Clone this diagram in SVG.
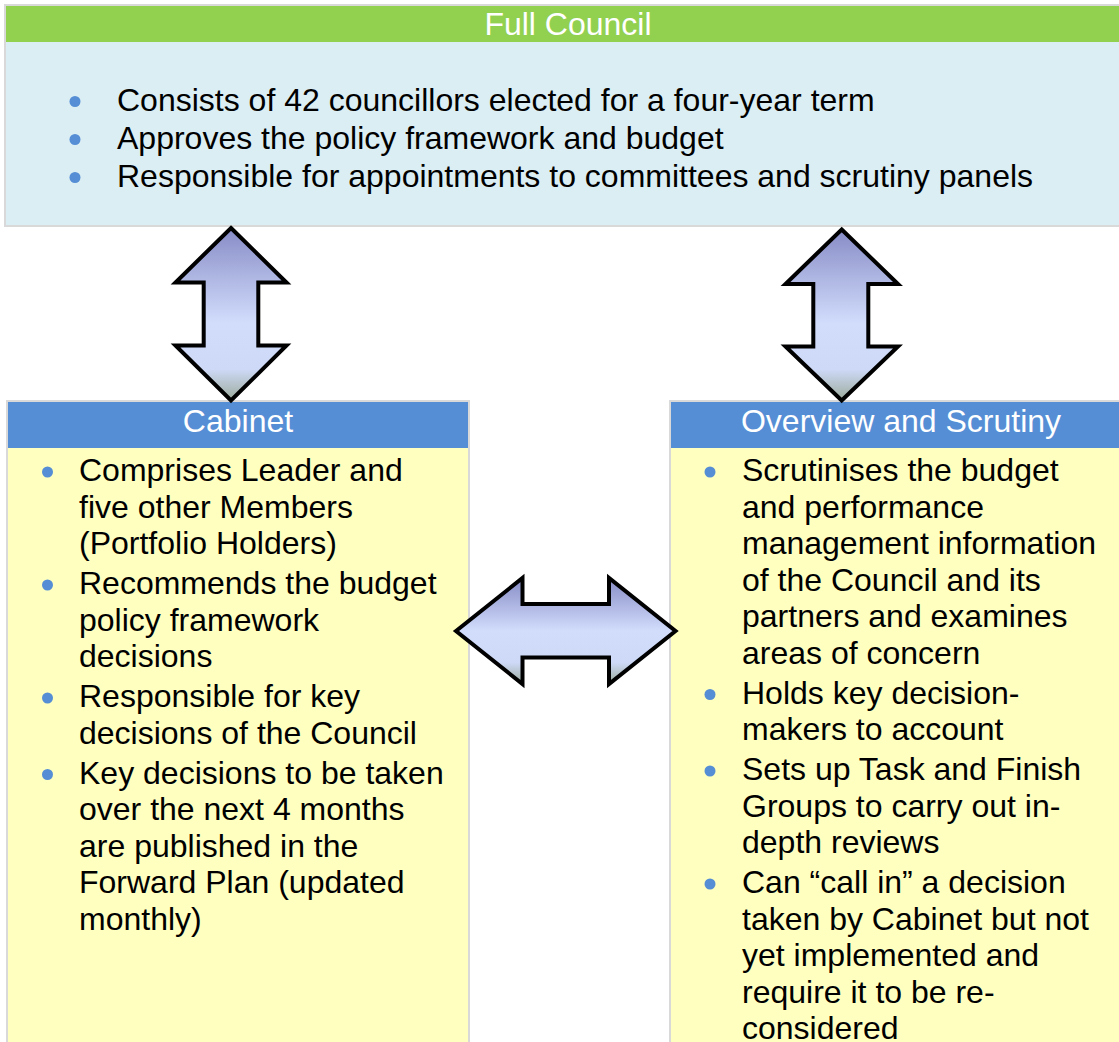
<svg xmlns="http://www.w3.org/2000/svg" width="1119" height="1042" viewBox="0 0 1119 1042">
<defs>
<linearGradient id="gv" x1="0" y1="0" x2="0" y2="1">
<stop offset="0" stop-color="#878cc6"/>
<stop offset="0.55" stop-color="#d2ddfc"/>
<stop offset="0.82" stop-color="#cdd9f6"/>
<stop offset="1" stop-color="#9cab9c"/>
</linearGradient>
<linearGradient id="gh" x1="0" y1="0" x2="0" y2="1">
<stop offset="0" stop-color="#878cc6"/>
<stop offset="0.5" stop-color="#d2ddfc"/>
<stop offset="0.8" stop-color="#cdd9f6"/>
<stop offset="1" stop-color="#9cab9c"/>
</linearGradient>
<style>
.frame{stroke:#d9d9d9;stroke-width:2}
.hdr{font-family:"Liberation Sans",Arial,sans-serif;font-size:32px;fill:#ffffff;text-anchor:middle}
.txt{font-family:"Liberation Sans",Arial,sans-serif;font-size:32px;fill:#000000}
.bul{fill:#558ed5}
.arr{stroke:#000000;stroke-width:4;stroke-linejoin:miter}
</style>
</defs>

<g id="full-council">
<rect class="frame" x="5" y="5" width="1130" height="221" fill="#dbeef4"/>
<rect x="6" y="6" width="1128" height="36" fill="#92d050"/>
<text class="hdr" x="568" y="34.5">Full Council</text>
<circle class="bul" cx="75" cy="101.5" r="5.5"/>
<circle class="bul" cx="75" cy="139.5" r="5.5"/>
<circle class="bul" cx="75" cy="177.5" r="5.5"/>
<text class="txt" x="117" y="110.5">Consists of 42 councillors elected for a four-year term</text>
<text class="txt" x="117" y="148.5">Approves the policy framework and budget</text>
<text class="txt" x="117" y="186.5">Responsible for appointments to committees and scrutiny panels</text>
</g>

<g id="cabinet">
<rect class="frame" x="7" y="401" width="462" height="660" fill="#ffffc0"/>
<rect x="8" y="402" width="460" height="46" fill="#558ed5"/>
<text class="hdr" x="238" y="432">Cabinet</text>
<circle class="bul" cx="47.5" cy="472" r="5.5"/>
<circle class="bul" cx="47.5" cy="585" r="5.5"/>
<circle class="bul" cx="47.5" cy="698" r="5.5"/>
<circle class="bul" cx="47.5" cy="774.5" r="5.5"/>
<text class="txt" x="79" y="481">Comprises Leader and</text>
<text class="txt" x="79" y="517.5">five other Members</text>
<text class="txt" x="79" y="554">(Portfolio Holders)</text>
<text class="txt" x="79" y="594">Recommends the budget</text>
<text class="txt" x="79" y="630.5">policy framework</text>
<text class="txt" x="79" y="667">decisions</text>
<text class="txt" x="79" y="707">Responsible for key</text>
<text class="txt" x="79" y="743.5">decisions of the Council</text>
<text class="txt" x="79" y="783.5">Key decisions to be taken</text>
<text class="txt" x="79" y="820">over the next 4 months</text>
<text class="txt" x="79" y="856.5">are published in the</text>
<text class="txt" x="79" y="893">Forward Plan (updated</text>
<text class="txt" x="79" y="929.5">monthly)</text>
</g>

<g id="overview-scrutiny">
<rect class="frame" x="670" y="401" width="470" height="660" fill="#ffffc0"/>
<rect x="671" y="402" width="468" height="46" fill="#558ed5"/>
<text class="hdr" x="901" y="432">Overview and Scrutiny</text>
<circle class="bul" cx="710" cy="472" r="5.5"/>
<circle class="bul" cx="710" cy="694.5" r="5.5"/>
<circle class="bul" cx="710" cy="771" r="5.5"/>
<circle class="bul" cx="710" cy="884" r="5.5"/>
<text class="txt" x="742" y="481">Scrutinises the budget</text>
<text class="txt" x="742" y="517.5">and performance</text>
<text class="txt" x="742" y="554">management information</text>
<text class="txt" x="742" y="590.5">of the Council and its</text>
<text class="txt" x="742" y="627">partners and examines</text>
<text class="txt" x="742" y="663.5">areas of concern</text>
<text class="txt" x="742" y="703.5">Holds key decision-</text>
<text class="txt" x="742" y="740">makers to account</text>
<text class="txt" x="742" y="780">Sets up Task and Finish</text>
<text class="txt" x="742" y="816.5">Groups to carry out in-</text>
<text class="txt" x="742" y="853">depth reviews</text>
<text class="txt" x="742" y="893">Can “call in” a decision</text>
<text class="txt" x="742" y="929.5">taken by Cabinet but not</text>
<text class="txt" x="742" y="966">yet implemented and</text>
<text class="txt" x="742" y="1002.5">require it to be re-</text>
<text class="txt" x="742" y="1039">considered</text>
</g>

<g id="connectors">
<polygon class="arr" fill="url(#gv)" points="231,228 286.5,282.5 258.3,282.5 258.3,345.5 286.5,345.5 231,400.5 175.5,345.5 203.7,345.5 203.7,282.5 175.5,282.5"/>
<polygon class="arr" fill="url(#gv)" points="841.7,229.5 898,284 868.3,284 868.3,346.5 898,346.5 841.7,400.5 785.5,346.5 813.3,346.5 813.3,284 785.5,284"/>
<polygon class="arr" fill="url(#gh)" points="456,631 522.5,578 522.5,604 609,604 609,578 675.5,631 609,684 609,657.5 522.5,657.5 522.5,684"/>
</g>
</svg>
